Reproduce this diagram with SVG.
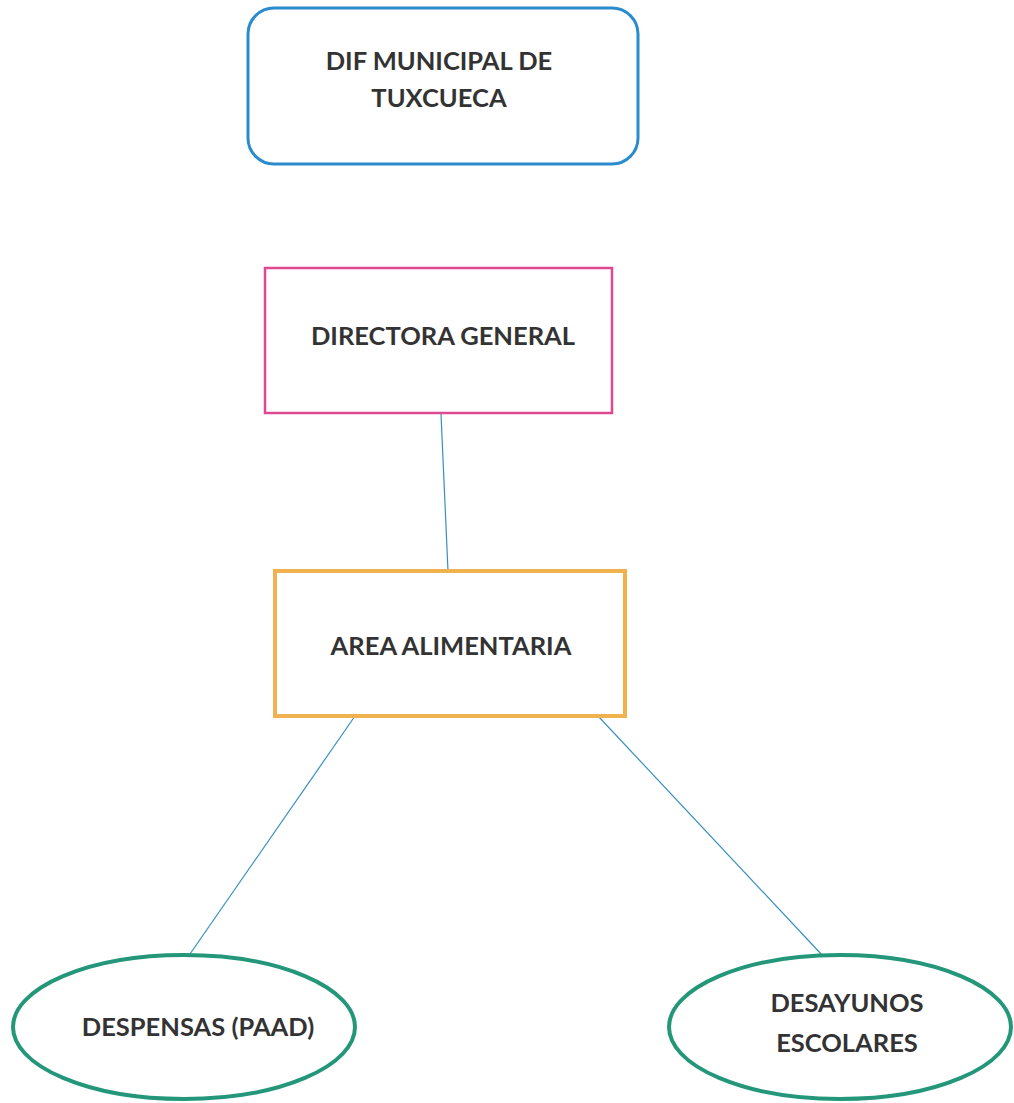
<svg xmlns="http://www.w3.org/2000/svg" width="1014" height="1103" viewBox="0 0 1014 1103">
<style>
.t{font-family:Lato,"Open Sans","Liberation Sans",sans-serif;font-weight:bold;font-size:25.5px;fill:#333;text-anchor:middle}
.c{stroke:#3a8fbf;stroke-width:1.2;fill:none}
</style>
<rect width="1014" height="1103" fill="#fff"/>
<g id="connectors">
<line class="c" x1="441" y1="414" x2="448" y2="571"/>
<line class="c" x1="355" y1="716" x2="190" y2="954"/>
<line class="c" x1="598" y1="716" x2="822" y2="955"/>
</g>
<g id="dif">
<rect x="248" y="8" width="390" height="156" rx="26" fill="#fff" stroke="#2b8ccd" stroke-width="3"/>
<text class="t" x="439" y="70">DIF MUNICIPAL DE</text>
<text class="t" x="439" y="107">TUXCUECA</text>
</g>
<g id="directora">
<rect x="265" y="268" width="347" height="145" fill="#fff" stroke="#e0488f" stroke-width="2.5"/>
<text class="t" x="443" y="345">DIRECTORA GENERAL</text>
</g>
<g id="area">
<rect x="275" y="571" width="350" height="145" fill="#fff" stroke="#f0b24e" stroke-width="4"/>
<text class="t" x="451" y="655">AREA ALIMENTARIA</text>
</g>
<g id="despensas">
<ellipse cx="184" cy="1027" rx="171" ry="72" fill="#fff" stroke="#24977a" stroke-width="4"/>
<text class="t" x="198" y="1036">DESPENSAS (PAAD)</text>
</g>
<g id="desayunos">
<ellipse cx="840" cy="1027" rx="171" ry="72" fill="#fff" stroke="#24977a" stroke-width="4"/>
<text class="t" x="847" y="1012">DESAYUNOS</text>
<text class="t" x="847" y="1052">ESCOLARES</text>
</g>
</svg>
